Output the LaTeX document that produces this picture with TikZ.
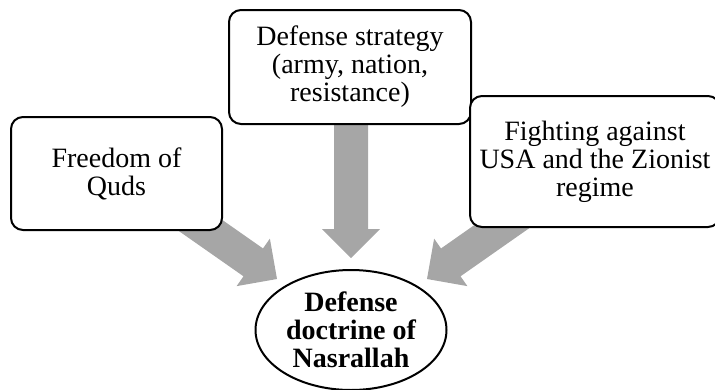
\documentclass[tikz,border=0pt]{standalone}
\usepackage{fontspec}
\setmainfont{Liberation Serif}
\usetikzlibrary{shapes.geometric}
\definecolor{arrowgray}{HTML}{A6A6A6}
\newcommand\myblockarrow[3]{%
  \begin{scope}[shift={(#1)}, rotate=#2]
    \fill[arrowgray] (0,0) -- (-29,-29) -- (-29,-17) -- (-#3,-17) -- (-#3,17) -- (-29,17) -- (-29,29) -- cycle;
  \end{scope}}
\begin{document}
\begin{tikzpicture}[x=1pt,y=-1pt,
  box/.style={draw=black, line width=2pt, fill=white, rounded corners=12pt,
    inner sep=0pt, align=center, font=\fontsize{28}{28}\selectfont},
  ovalbox/.style={draw=black, line width=2pt, fill=white, ellipse, inner sep=0pt,
    align=center, font=\fontsize{28}{28}\selectfont\bfseries}]
\useasboundingbox (0,0) rectangle (715,389);
\clip (0,0) rectangle (715,389);
\coordinate (tipL) at (277,279);
\coordinate (tipM) at (351,258);
\coordinate (tipR) at (427,279);
\myblockarrow{tipL}{-35}{170}
\myblockarrow{tipM}{-90}{150}
\myblockarrow{tipR}{215}{170}
\node[box, minimum width=211pt, minimum height=113pt] (quds) at (116.5,173.5) {Freedom of\\Quds};
\node[box, minimum width=242pt, minimum height=114pt] (strat) at (350,67) {Defense strategy\\(army, nation,\\resistance)};
\node[box, minimum width=250pt, minimum height=131pt] (fight) at (595,161.5) {Fighting against\\USA and the Zionist\\regime};
\node[ovalbox, minimum width=191pt, minimum height=120pt] (doc) at (351,330) {Defense\\doctrine of\\Nasrallah};
\end{tikzpicture}
\end{document}
